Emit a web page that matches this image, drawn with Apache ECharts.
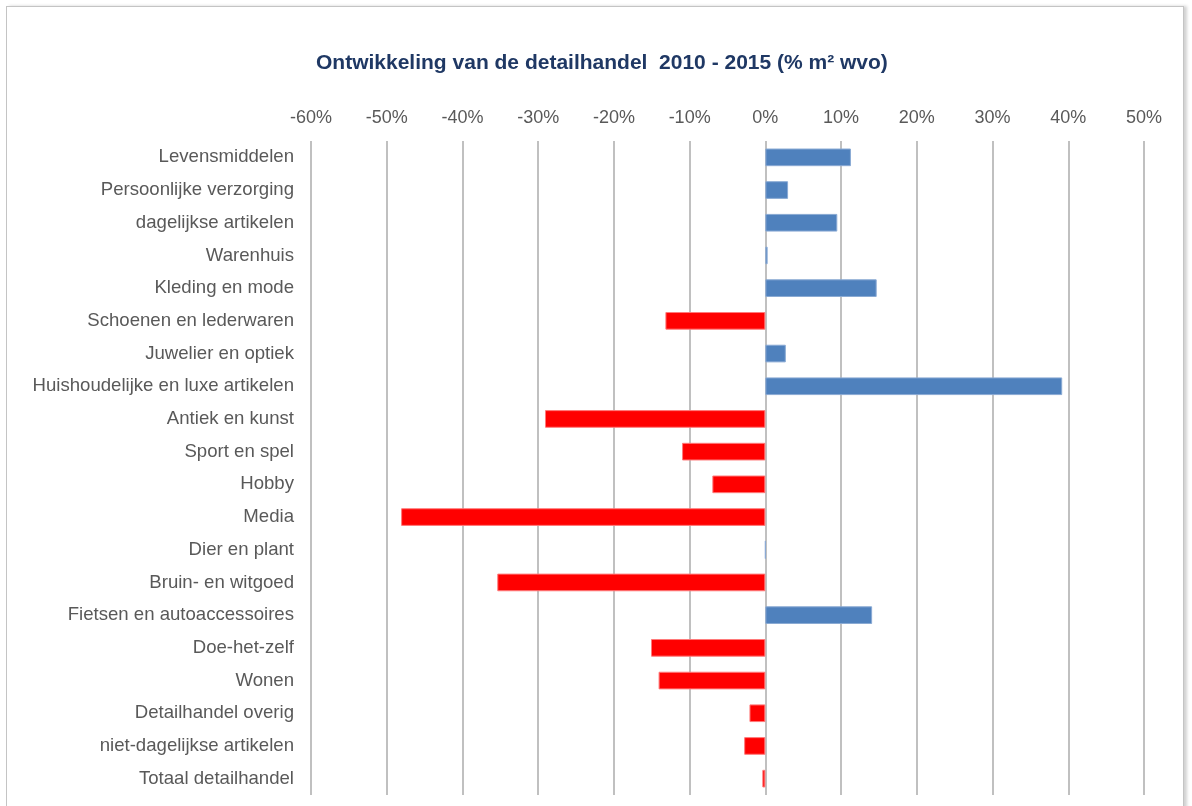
<!DOCTYPE html>
<html>
<head>
<meta charset="utf-8">
<script src="https://cdn.jsdelivr.net/npm/echarts@6/dist/echarts.min.js"></script>
<style>
html,body{margin:0;padding:0;background:#fff;}
#frame{position:absolute;left:6px;top:6px;width:1176px;height:820px;border:1px solid #c4c4c4;box-shadow:3px 0 3px rgba(0,0,0,0.18);background:#fff;}
#chart{position:absolute;left:0;top:0;width:1192px;height:806px;}
</style>
</head>
<body>
<div id="frame"></div>
<div id="chart"></div>
<script>
var titleText = 'Ontwikkeling van de detailhandel  2010 - 2015 (% m² wvo)';
var categories = [
  'Levensmiddelen','Persoonlijke verzorging','dagelijkse artikelen','Warenhuis',
  'Kleding en mode','Schoenen en lederwaren','Juwelier en optiek',
  'Huishoudelijke en luxe artikelen','Antiek en kunst','Sport en spel','Hobby',
  'Media','Dier en plant','Bruin- en witgoed','Fietsen en autoaccessoires',
  'Doe-het-zelf','Wonen','Detailhandel overig','niet-dagelijkse artikelen',
  'Totaal detailhandel'
];
var values = [
  11.3, 3.0, 9.5, 0.3,
  14.7, -13.2, 2.7,
  39.2, -29.1, -11.0, -7.0,
  -48.1, 0, -35.4, 14.1,
  -15.1, -14.1, -2.1, -2.8,
  -0.4
];
var axisMin = -60, axisMax = 50, axisStep = 10;

var FONT = 'Liberation Sans, Arial, sans-serif';
var chart = echarts.init(document.getElementById('chart'), null, {renderer:'canvas'});
var data = values.map(function(v){
  return {value:v, itemStyle:{
    color: v < 0 ? '#FF0000' : '#4F81BD',
    borderColor: v < 0 ? '#ff7a7a' : '#8aaad4'
  }};
});
chart.setOption({
  backgroundColor:'transparent',
  animation:false,
  graphic:[{
    type:'text', left:316, top:53,
    style:{text:titleText, font:'bold 21px ' + FONT, fill:'#1F3864'}
  }],
  grid:{left:311, right:48, top:141, bottom:11, containLabel:false},
  xAxis:{
    type:'value', position:'top', min:axisMin, max:axisMax, interval:axisStep,
    axisLine:{show:false}, axisTick:{show:false},
    axisLabel:{formatter:'{value}%', fontFamily:FONT, fontSize:18, color:'#595959', margin:14},
    splitLine:{show:true, lineStyle:{color:'#ababab', width:1.5}}
  },
  yAxis:{
    type:'category', data:categories, inverse:true,
    axisLine:{show:false}, axisTick:{show:false},
    axisLabel:{fontFamily:FONT, fontSize:18.6, color:'#595959', margin:17}
  },
  series:[{
    type:'bar', data:data, barCategoryGap:'46%',
    itemStyle:{borderWidth:1}
  }]
});
</script>
</body>
</html>
